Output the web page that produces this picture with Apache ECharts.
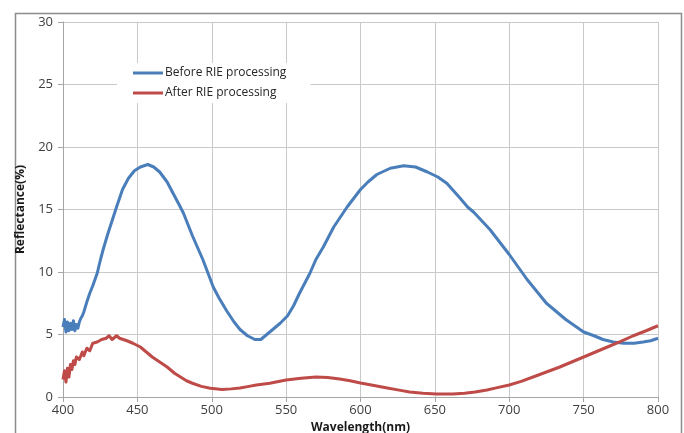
<!DOCTYPE html>
<html>
<head>
<meta charset="utf-8">
<script src="https://cdn.jsdelivr.net/npm/echarts@6/dist/echarts.min.js"></script>
<style>html,body{margin:0;padding:0;background:#fff;}#c{width:684px;height:433px;}</style>
</head>
<body>
<div id="c"></div>
<script>
var seriesNames = ['Before RIE processing', 'After RIE processing'];
var xTicks = [400, 450, 500, 550, 600, 650, 700, 750, 800];
var yTicks = [0, 5, 10, 15, 20, 25, 30];

var beforeWl = [400,401,402,403,404,405,406,407,408,409,410,411,412,413,414,416,418,420,423,425,427,430,433,436,440,444,448,452,457,461,465,470,474,478,481,487,494,501,505,510,515,519,524,529,533,537,541,546,551,555,559,566,570,575,582,591,600,605,611,620,629,637,645,652,658,667,672,676,687,700,712,725,738,750,757,763,770,777,784,790,795,800];
var beforeVal = [5.6,6.2,5.2,6.0,5.3,5.9,5.4,6.1,5.3,5.8,5.5,6.0,6.3,6.5,6.8,7.6,8.3,8.9,9.9,10.9,11.8,13.0,14.1,15.2,16.6,17.5,18.1,18.4,18.6,18.4,18.0,17.2,16.3,15.4,14.7,12.9,11.0,8.8,7.9,6.9,6.0,5.4,4.9,4.6,4.6,5.0,5.4,5.9,6.5,7.3,8.3,9.9,11.0,12.0,13.6,15.2,16.6,17.2,17.8,18.3,18.5,18.4,18.0,17.6,17.1,15.9,15.2,14.8,13.4,11.4,9.4,7.5,6.2,5.2,4.9,4.6,4.4,4.3,4.3,4.4,4.5,4.7];

var afterWl = [400,401,402,403,404,405,406,407,408,409,411,413,414,416,418,420,423,426,429,431,433,436,438,443,447,452,456,460,465,470,475,479,483,487,493,499,507,513,519,525,530,539,550,560,570,578,586,593,600,610,618,626,633,642,651,662,670,677,685,692,700,708,716,725,734,742,750,758,766,775,783,792,800];
var afterVal = [1.4,2.1,1.2,2.3,1.6,2.6,2.2,2.9,2.6,3.2,3.0,3.6,3.3,3.9,3.7,4.3,4.4,4.6,4.7,4.9,4.6,4.9,4.7,4.5,4.3,4.0,3.6,3.2,2.8,2.4,1.9,1.6,1.3,1.1,0.85,0.7,0.6,0.65,0.72,0.85,0.96,1.1,1.36,1.5,1.6,1.56,1.44,1.3,1.12,0.9,0.72,0.55,0.4,0.3,0.24,0.24,0.3,0.4,0.56,0.75,0.96,1.25,1.6,2.0,2.4,2.8,3.2,3.6,4.0,4.45,4.88,5.3,5.7];

function pairs(xs, ys) { return xs.map(function (x, i) { return [x, ys[i]]; }); }

var chart = echarts.init(document.getElementById('c'), null, {renderer: 'canvas'});
var font = '"Open Sans", "DejaVu Sans", sans-serif';
chart.setOption({
  animation: false,
  backgroundColor: '#ffffff',
  graphic: [{
    type: 'rect', left: 13, top: 11, z: -1,
    shape: {width: 666, height: 440},
    style: {fill: 'none', stroke: '#8c8c8c', lineWidth: 1.5}
  }],
  grid: {left: 63, right: 26, top: 22, bottom: 36, containLabel: false, outerBoundsMode: 'none'},
  legend: {
    data: seriesNames,
    orient: 'vertical',
    left: 117, top: 63,
    padding: [4, 24, 4, 16],
    itemGap: 8,
    itemWidth: 30, itemHeight: 3,
    icon: 'rect',
    backgroundColor: '#ffffff',
    textStyle: {fontFamily: font, fontSize: 12, color: '#262626', padding: [0, 0, 0, -3]}
  },
  xAxis: {
    type: 'value', min: xTicks[0], max: xTicks[xTicks.length - 1], interval: 50,
    name: 'Wavelength(nm)', nameLocation: 'middle', nameGap: 22,
    nameTextStyle: {fontFamily: font, fontSize: 12, fontWeight: 'bold', color: '#1a1a1a'},
    axisLine: {show: true, lineStyle: {color: '#a6a6a6', width: 1}},
    axisTick: {show: true, length: 5, lineStyle: {color: '#a6a6a6'}},
    axisLabel: {fontFamily: font, fontSize: 13, color: '#404040', margin: 7},
    splitLine: {show: true, lineStyle: {color: '#c9c9c9', width: 1}}
  },
  yAxis: {
    type: 'value', min: yTicks[0], max: yTicks[yTicks.length - 1], interval: 5,
    name: 'Reflectance(%)', nameLocation: 'middle', nameGap: 36,
    nameTextStyle: {fontFamily: font, fontSize: 12, fontWeight: 'bold', color: '#1a1a1a'},
    axisLine: {show: true, lineStyle: {color: '#a6a6a6', width: 1}},
    axisTick: {show: true, length: 5, lineStyle: {color: '#a6a6a6'}},
    axisLabel: {fontFamily: font, fontSize: 13, color: '#404040', margin: 10},
    splitLine: {show: true, lineStyle: {color: '#c9c9c9', width: 1}}
  },
  series: [
    {
      name: seriesNames[0], type: 'line', showSymbol: false, smooth: false,
      data: pairs(beforeWl, beforeVal),
      lineStyle: {color: '#4a7ebb', width: 3, join: 'round'},
      itemStyle: {color: '#4a7ebb'}
    },
    {
      name: seriesNames[1], type: 'line', showSymbol: false, smooth: false,
      data: pairs(afterWl, afterVal),
      lineStyle: {color: '#be4b48', width: 3, join: 'round'},
      itemStyle: {color: '#be4b48'}
    }
  ]
});
</script>
</body>
</html>
